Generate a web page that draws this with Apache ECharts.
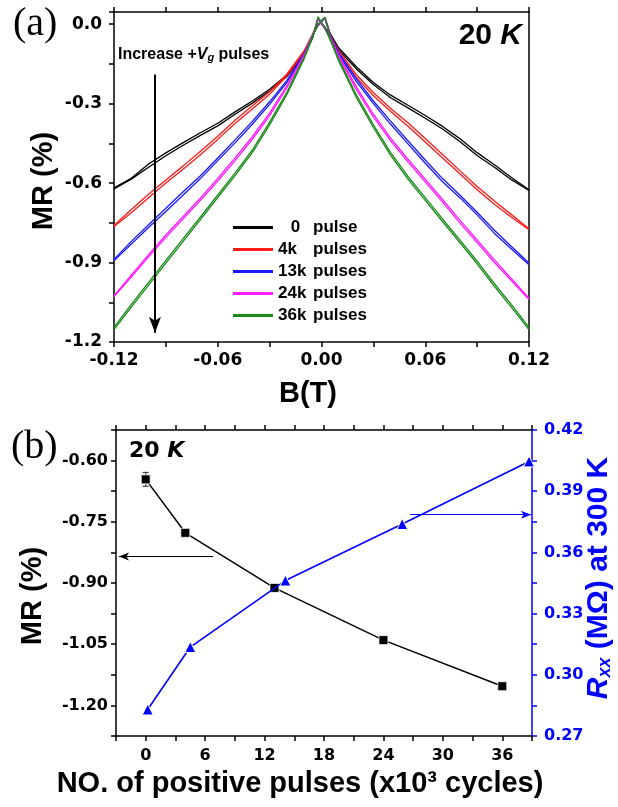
<!DOCTYPE html>
<html><head><meta charset="utf-8">
<script src="https://cdn.jsdelivr.net/npm/echarts@6/dist/echarts.min.js"></script>
<style>html,body{margin:0;padding:0;background:#fff}#c{width:618px;height:807px}</style>
</head><body><div id="c"></div>
<script>
// ---------- Panel (a): MR vs B ----------
const fieldB = [-0.12,-0.11,-0.10,-0.09,-0.08,-0.07,-0.06,-0.05,-0.04,-0.03,-0.02,-0.01,-0.005,-0.002,0,0.002,0.005,0.01,0.02,0.03,0.04,0.05,0.06,0.07,0.08,0.09,0.10,0.11,0.12];
const mr0Down  = [-0.622,-0.585,-0.540,-0.497,-0.457,-0.420,-0.384,-0.340,-0.298,-0.252,-0.198,-0.115,-0.050,0.020,0.005,-0.012,-0.045,-0.098,-0.168,-0.228,-0.278,-0.316,-0.355,-0.396,-0.443,-0.496,-0.540,-0.588,-0.628];
const mr0Up    = [-0.618,-0.582,-0.528,-0.486,-0.447,-0.410,-0.374,-0.331,-0.290,-0.246,-0.192,-0.110,-0.040,-0.005,0.010,0.025,-0.035,-0.090,-0.160,-0.220,-0.268,-0.306,-0.345,-0.386,-0.432,-0.485,-0.531,-0.580,-0.625];
const mr4Down  = [-0.764,-0.712,-0.655,-0.600,-0.548,-0.493,-0.435,-0.375,-0.320,-0.265,-0.195,-0.105,-0.040,0.020,0.000,-0.015,-0.048,-0.108,-0.200,-0.270,-0.330,-0.385,-0.445,-0.505,-0.565,-0.625,-0.680,-0.730,-0.776];
const mr4Up    = [-0.760,-0.700,-0.642,-0.588,-0.535,-0.480,-0.423,-0.363,-0.308,-0.255,-0.188,-0.100,-0.035,-0.002,0.012,0.022,-0.040,-0.100,-0.190,-0.258,-0.318,-0.372,-0.432,-0.492,-0.553,-0.613,-0.668,-0.720,-0.772];
const mr13Down = [-0.893,-0.830,-0.768,-0.707,-0.645,-0.583,-0.515,-0.448,-0.378,-0.303,-0.220,-0.115,-0.045,0.020,0.000,-0.015,-0.050,-0.115,-0.215,-0.300,-0.378,-0.452,-0.525,-0.595,-0.655,-0.720,-0.790,-0.850,-0.908];
const mr13Up   = [-0.888,-0.820,-0.757,-0.695,-0.633,-0.572,-0.505,-0.437,-0.367,-0.293,-0.212,-0.110,-0.040,-0.003,0.010,0.022,-0.042,-0.108,-0.205,-0.290,-0.366,-0.440,-0.513,-0.583,-0.645,-0.710,-0.778,-0.840,-0.902];
const mr24Down = [-1.028,-0.955,-0.878,-0.805,-0.735,-0.665,-0.592,-0.515,-0.435,-0.345,-0.240,-0.120,-0.045,0.022,0.000,-0.018,-0.055,-0.125,-0.245,-0.350,-0.440,-0.520,-0.595,-0.672,-0.750,-0.825,-0.900,-0.970,-1.040];
const mr24Up   = [-1.025,-0.948,-0.870,-0.796,-0.726,-0.656,-0.582,-0.505,-0.425,-0.336,-0.232,-0.115,-0.040,-0.002,0.012,0.024,-0.046,-0.118,-0.235,-0.340,-0.430,-0.510,-0.585,-0.662,-0.740,-0.815,-0.890,-0.962,-1.035];
const mr36Down = [-1.153,-1.068,-0.985,-0.902,-0.820,-0.738,-0.655,-0.572,-0.485,-0.380,-0.265,-0.130,-0.048,0.028,0.005,-0.015,-0.060,-0.140,-0.275,-0.390,-0.495,-0.585,-0.665,-0.745,-0.825,-0.905,-0.990,-1.070,-1.153];
const mr36Up   = [-1.145,-1.058,-0.975,-0.892,-0.810,-0.728,-0.645,-0.562,-0.475,-0.370,-0.256,-0.124,-0.042,-0.002,0.015,0.026,-0.052,-0.132,-0.265,-0.380,-0.485,-0.575,-0.655,-0.735,-0.815,-0.895,-0.980,-1.060,-1.145];

const legendCounts = ['0','4k','13k','24k','36k'];
const legendUnits  = ['pulse','pulses','pulses','pulses','pulses'];
const curveNames   = ['0 pulse','4k pulses','13k pulses','24k pulses','36k pulses'];
const curveColors  = ['#000000','#ff1a1a','#1a1aff','#ff1aff','#1a8a1a'];

const topXTickValues = [-0.12,-0.06,0,0.06,0.12];
const topXTickLabels = ['-0.12','-0.06','0.00','0.06','0.12'];
const topYTickValues = [0,-0.3,-0.6,-0.9,-1.2];
const topYTickLabels = ['0.0','-0.3','-0.6','-0.9','-1.2'];

// arrow in panel (a): B position, start MR, end MR
const arrowA = [-0.0963, -0.19, -1.165];

// ---------- Panel (b) ----------
const pulsesMR = [0, 4, 13, 24, 36];
const mrValues = [-0.646, -0.777, -0.912, -1.040, -1.153];
const mrErrors = [0.017, 0.004, 0.004, 0.004, 0.004];
const pulsesR  = [0.2, 4.5, 14.1, 25.9, 38.7];
const rxxValues = [0.283, 0.3136, 0.3462, 0.3739, 0.4046];

const botXTickValues = [0,6,12,18,24,30,36];
const botXTickLabels = ['0','6','12','18','24','30','36'];
const botYTickValues = [-0.60,-0.75,-0.90,-1.05,-1.20];
const botYTickLabels = ['-0.60','-0.75','-0.90','-1.05','-1.20'];
const rTickValues = [0.27,0.30,0.33,0.36,0.39,0.42];
const rTickLabels = ['0.27','0.30','0.33','0.36','0.39','0.42'];

// arrows in panel (b): [xStart, xEnd, y]
const arrowMR = [6.8, -2.7, -0.835];
const arrowR  = [26.7, 38.9, 0.3785];

function lookup(values, labels){
  return function(v){
    for (let i=0;i<values.length;i++){ if (Math.abs(v-values[i])<1e-6) return labels[i]; }
    return '';
  };
}
const zip = (xs, ys) => xs.map((x,i)=>[x, ys[i]]);

const chart = echarts.init(document.getElementById('c'), null, {renderer:'canvas'});
const tickFont = {fontFamily:'DejaVu Sans', fontWeight:'bold', color:'#000'};
const blk = {color:'#000', width:1.5};

function axisBase(extra){
  return Object.assign({
    type:'value',
    splitLine:{show:false},
    axisLine:{show:true, onZero:false, lineStyle:blk},
    axisTick:{show:true, inside:false, length:5, lineStyle:blk},
  }, extra);
}

const curves = [[mr0Down,mr0Up],[mr4Down,mr4Up],[mr13Down,mr13Up],[mr24Down,mr24Up],[mr36Down,mr36Up]];
const series = [];
curves.forEach((pair,k)=>{
  pair.forEach(arr=>{
    series.push({
      type:'line', name:curveNames[k], xAxisIndex:0, yAxisIndex:0,
      data:zip(fieldB, arr), showSymbol:false, symbol:'none',
      lineStyle:{width:1.3, color:curveColors[k]}, itemStyle:{color:curveColors[k]},
      animation:false, z:3
    });
  });
});
series.push({
  type:'line', xAxisIndex:0, yAxisIndex:0, data:[], animation:false,
  markLine:{silent:true, animation:false, symbol:['none','arrow'], symbolSize:[9,16],
    label:{show:false}, lineStyle:{color:'#000', width:2, type:'solid'},
    data:[[{coord:[arrowA[0],arrowA[1]]},{coord:[arrowA[0],arrowA[2]]}]]}
});
// panel b
series.push({
  type:'custom', xAxisIndex:2, yAxisIndex:2, animation:false, z:2,
  data: pulsesMR.map((x,i)=>[x, mrValues[i], mrErrors[i]]),
  renderItem:function(params, api){
    const x = api.value(0), y = api.value(1), e = api.value(2);
    const p1 = api.coord([x, y+e]), p2 = api.coord([x, y-e]);
    const st = {stroke:'#444', lineWidth:1.2};
    return {type:'group', children:[
      {type:'line', shape:{x1:p1[0],y1:p1[1],x2:p2[0],y2:p2[1]}, style:st},
      {type:'line', shape:{x1:p1[0]-3,y1:p1[1],x2:p1[0]+3,y2:p1[1]}, style:st},
      {type:'line', shape:{x1:p2[0]-3,y1:p2[1],x2:p2[0]+3,y2:p2[1]}, style:st}
    ]};
  }
});
series.push({
  type:'line', xAxisIndex:2, yAxisIndex:2, data:zip(pulsesMR, mrValues),
  symbol:'rect', symbolSize:9, lineStyle:{color:'#000', width:1.5},
  itemStyle:{color:'#000', borderColor:'#fff', borderWidth:0.8}, animation:false, z:3,
  markLine:{silent:true, animation:false, symbol:['none','arrow'], symbolSize:[6,10],
    label:{show:false}, lineStyle:{color:'#000', width:1.2, type:'solid'},
    data:[[{coord:[arrowMR[0],arrowMR[2]]},{coord:[arrowMR[1],arrowMR[2]]}]]}
});
series.push({
  type:'line', xAxisIndex:2, yAxisIndex:3, data:zip(pulsesR, rxxValues),
  symbol:'triangle', symbolSize:11, lineStyle:{color:'#0000ff', width:1.6},
  itemStyle:{color:'#0000ff', borderColor:'#fff', borderWidth:1}, animation:false, z:4,
  markLine:{silent:true, animation:false, symbol:['none','arrow'], symbolSize:[6,10],
    label:{show:false}, lineStyle:{color:'#0000ff', width:1.2, type:'solid'},
    data:[[{coord:[arrowR[0],arrowR[2]]},{coord:[arrowR[1],arrowR[2]]}]]}
});

const option = {
  backgroundColor:'#fff',
  animation:false,
  grid:[
    {left:114, top:12, width:415, height:330},
    {left:116, top:430, width:416, height:306}
  ],
  legend:{
    data:curveNames, left:228, top:214, orient:'vertical',
    itemWidth:40, itemHeight:3, itemGap:5, icon:'rect', selectedMode:false,
    textStyle:{fontFamily:'Liberation Sans', fontWeight:'bold', fontSize:17, color:'#000', lineHeight:17,
      rich:{
        n:{fontFamily:'Liberation Sans', fontWeight:'bold', fontSize:17, width:35, align:'left'},
        z:{fontFamily:'Liberation Sans', fontWeight:'bold', fontSize:17, width:35, align:'center'},
        u:{fontFamily:'Liberation Sans', fontWeight:'bold', fontSize:17}
      }},
    formatter:function(name){
      const i = curveNames.indexOf(name);
      return (i===0?'{z|':'{n|') + legendCounts[i] + '}{u|' + legendUnits[i] + '}';
    }
  },
  xAxis:[
    axisBase({gridIndex:0, position:'bottom', min:-0.12, max:0.12, interval:0.03,
      axisLabel:Object.assign({fontSize:17, margin:10, formatter:lookup(topXTickValues, topXTickLabels)}, tickFont)}),
    axisBase({gridIndex:0, position:'top', min:-0.12, max:0.12, interval:0.03, axisLabel:{show:false}}),
    axisBase({gridIndex:1, position:'bottom', min:-3, max:39, interval:3,
      axisLabel:Object.assign({fontSize:16, margin:12, formatter:lookup(botXTickValues, botXTickLabels)}, tickFont)}),
    axisBase({gridIndex:1, position:'top', min:-3, max:39, interval:3, axisLabel:{show:false}})
  ],
  yAxis:[
    axisBase({gridIndex:0, position:'left', min:-1.2, max:0.046, interval:0.15,
      axisLabel:Object.assign({fontSize:17, margin:12, formatter:lookup(topYTickValues, topYTickLabels)}, tickFont)}),
    axisBase({gridIndex:0, position:'right', min:-1.2, max:0.046, interval:0.15, axisTick:{show:false}, axisLabel:{show:false}}),
    axisBase({gridIndex:1, position:'left', min:-1.275, max:-0.525, interval:0.075,
      axisLabel:Object.assign({fontSize:16, margin:8, formatter:lookup(botYTickValues, botYTickLabels)}, tickFont)}),
    axisBase({gridIndex:1, position:'right', min:0.27, max:0.42, interval:0.015,
      axisLine:{show:true, onZero:false, lineStyle:{color:'#0000ff', width:1.5}},
      axisTick:{show:true, length:5, lineStyle:{color:'#0000ff', width:1.5}},
      axisLabel:{fontFamily:'DejaVu Sans', fontWeight:'bold', fontSize:16, color:'#0000ff', margin:12,
        formatter:lookup(rTickValues, rTickLabels)}})
  ],
  series:series,
  graphic:[
    {type:'text', x:13, y:24, style:{text:'(a)', fontFamily:'Liberation Serif', fontSize:40, fill:'#000', align:'left', verticalAlign:'middle'}},
    {type:'text', x:11, y:447, style:{text:'(b)', fontFamily:'Liberation Serif', fontSize:40, fill:'#000', align:'left', verticalAlign:'middle'}},
    {type:'text', x:522, y:36, style:{text:'{a|20 }{b|K}', align:'right', verticalAlign:'middle', fill:'#000',
      rich:{a:{fontFamily:'Liberation Sans', fontWeight:'bold', fontSize:30, fill:'#000'},
            b:{fontFamily:'Liberation Sans', fontWeight:'bold', fontStyle:'italic', fontSize:30, fill:'#000'}}}},
    {type:'text', x:129, y:451, style:{text:'{a|20 }{b|K}', align:'left', verticalAlign:'middle', fill:'#000',
      rich:{a:{fontFamily:'DejaVu Sans', fontWeight:'bold', fontSize:22, fill:'#000'},
            b:{fontFamily:'DejaVu Sans', fontWeight:'bold', fontStyle:'italic', fontSize:22, fill:'#000'}}}},
    {type:'text', x:118, y:53, style:{text:'{a|Increase +}{v|V}{g|g}{a| pulses}', align:'left', verticalAlign:'middle', fill:'#000',
      rich:{a:{fontFamily:'Liberation Sans', fontWeight:'bold', fontSize:16, fill:'#000', verticalAlign:'bottom', lineHeight:20},
            v:{fontFamily:'Liberation Sans', fontWeight:'bold', fontStyle:'italic', fontSize:16, fill:'#000', verticalAlign:'bottom', lineHeight:20},
            g:{fontFamily:'Liberation Sans', fontWeight:'bold', fontStyle:'italic', fontSize:11, fill:'#000', verticalAlign:'bottom', lineHeight:14}}}},
    {type:'text', x:44, y:181, rotation:Math.PI/2, style:{text:'MR (%)', fontFamily:'Liberation Sans', fontWeight:'bold', fontSize:29, fill:'#000', align:'center', verticalAlign:'middle'}},
    {type:'text', x:308, y:394, style:{text:'B(T)', fontFamily:'Liberation Sans', fontWeight:'bold', fontSize:29, fill:'#000', align:'center', verticalAlign:'middle'}},
    {type:'text', x:33, y:596, rotation:Math.PI/2, style:{text:'MR (%)', fontFamily:'Liberation Sans', fontWeight:'bold', fontSize:29, fill:'#000', align:'center', verticalAlign:'middle'}},
    {type:'text', x:300, y:784, style:{text:'NO. of positive pulses (x10³ cycles)', fontFamily:'Liberation Sans', fontWeight:'bold', fontSize:29, fill:'#000', align:'center', verticalAlign:'middle'}},
    {type:'text', x:597, y:578, rotation:Math.PI/2, style:{text:'{r|R}{s|xx}{a| (MΩ) at 300 K}', align:'center', verticalAlign:'middle', fill:'#0000ff',
      rich:{r:{fontFamily:'Liberation Sans', fontWeight:'bold', fontStyle:'italic', fontSize:30, fill:'#0000ff', verticalAlign:'bottom', lineHeight:34},
            s:{fontFamily:'Liberation Sans', fontWeight:'bold', fontStyle:'italic', fontSize:18, fill:'#0000ff', verticalAlign:'bottom', lineHeight:24},
            a:{fontFamily:'Liberation Sans', fontWeight:'bold', fontSize:30, fill:'#0000ff', verticalAlign:'bottom', lineHeight:34}}}}
  ]
};
chart.setOption(option);
</script></body></html>
